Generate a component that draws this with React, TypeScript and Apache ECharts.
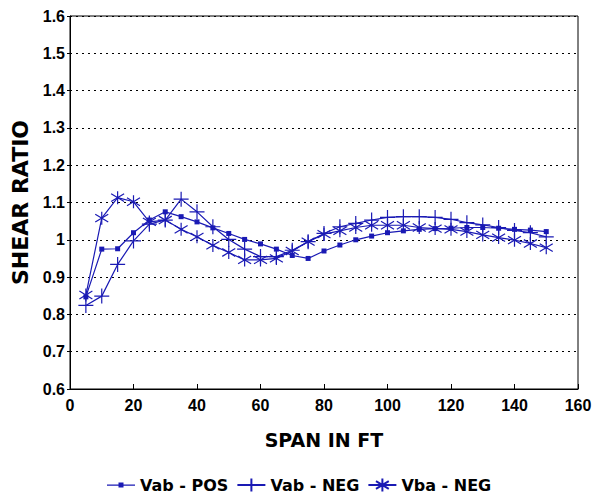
import React, { useEffect, useRef } from "react";
import * as echarts from "echarts";

const spans = [5, 10, 15, 20, 25, 30, 35, 40, 45, 50, 55, 60, 65, 70, 75, 80, 85, 90, 95, 100, 105, 110, 115, 120, 125, 130, 135, 140, 145, 150];
const vabPos = [0.847, 0.975, 0.976, 1.019, 1.053, 1.075, 1.062, 1.048, 1.032, 1.017, 1.001, 0.989, 0.975, 0.958, 0.95, 0.97, 0.986, 1.0, 1.01, 1.019, 1.024, 1.028, 1.03, 1.031, 1.033, 1.033, 1.031, 1.028, 1.026, 1.022];
const vabNeg = [0.824, 0.849, 0.934, 0.997, 1.042, 1.053, 1.109, 1.075, 1.035, 1.001, 0.975, 0.955, 0.955, 0.972, 0.995, 1.017, 1.035, 1.044, 1.053, 1.06, 1.062, 1.062, 1.06, 1.055, 1.046, 1.04, 1.033, 1.025, 1.019, 1.008];
const vbaNeg = [0.852, 1.058, 1.113, 1.102, 1.048, 1.053, 1.028, 1.008, 0.985, 0.966, 0.946, 0.946, 0.95, 0.97, 0.995, 1.015, 1.024, 1.033, 1.039, 1.039, 1.039, 1.033, 1.03, 1.028, 1.022, 1.013, 1.006, 0.999, 0.99, 0.979];
const seriesNames = ["Vab - POS", "Vab - NEG", "Vba - NEG"];
const xTitle = "SPAN IN FT";
const yTitle = "SHEAR RATIO";

const BLUE = "#1a1ab4";
const PLUS = "path://M10,0L10,20M0,10L20,10";
const STAR = "path://M10,0L10,20M0,4L20,16M0,16L20,4";
const POS_ICON = "path://M0,2L28,2L28,3.2L0,3.2Z M11.5,0L16.5,0L16.5,5L11.5,5Z";

export default function App() {
  const ref = useRef<HTMLDivElement>(null);
  useEffect(() => {
    document.body.style.margin = "0";
    const chart = echarts.init(ref.current!, null, { renderer: "svg" });
    const pair = (ys: number[]) => spans.map((x, i) => [x, ys[i]]);
    const labelFont = { fontFamily: "Liberation Sans", fontWeight: "bold" as const, fontSize: 16, color: "#000" };
    chart.setOption({
      animation: false,
      backgroundColor: "#fff",
      grid: { left: 70, right: 29, top: 16, bottom: 111, show: true, borderColor: "#000", borderWidth: 1 },
      xAxis: {
        type: "value",
        min: 0,
        max: 160,
        interval: 20,
        name: xTitle,
        nameLocation: "middle",
        nameGap: 41,
        nameTextStyle: { fontFamily: "DejaVu Sans", fontWeight: "bold", fontSize: 19, color: "#000" },
        axisLine: { show: true, lineStyle: { color: "#000", width: 1 } },
        axisTick: { show: true, inside: true, length: 5, lineStyle: { color: "#000" } },
        axisLabel: { ...labelFont, margin: 8 },
        splitLine: { show: false },
      },
      yAxis: {
        type: "value",
        min: 0.6,
        max: 1.6,
        interval: 0.1,
        name: yTitle,
        nameLocation: "middle",
        nameGap: 36,
        nameTextStyle: { fontFamily: "DejaVu Sans", fontWeight: "bold", fontSize: 22, color: "#000" },
        axisLine: { show: true, lineStyle: { color: "#000", width: 1 } },
        axisTick: { show: true, length: 3, lineStyle: { color: "#000" } },
        axisLabel: { ...labelFont, margin: 5, formatter: (v: number) => String(Math.round(v * 10) / 10) },
        splitLine: { show: true, lineStyle: { color: "#000", type: [2, 4], width: 1 } },
      },
      legend: {
        bottom: 2,
        left: 102,
        itemWidth: 28,
        itemHeight: 16,
        itemGap: 8,
        data: [{ name: seriesNames[0], icon: POS_ICON }, seriesNames[1], seriesNames[2]],
        textStyle: { fontFamily: "DejaVu Sans", fontWeight: "bold", fontSize: 16, color: "#000" },
      },
      series: [
        {
          name: seriesNames[0],
          type: "line",
          data: pair(vabPos),
          symbol: "rect",
          symbolSize: 5,
          lineStyle: { color: BLUE, width: 1.2 },
          itemStyle: { color: BLUE },
        },
        {
          name: seriesNames[1],
          type: "line",
          data: pair(vabNeg),
          symbol: PLUS,
          symbolSize: 15,
          lineStyle: { color: BLUE, width: 1.2 },
          itemStyle: { color: BLUE, borderColor: BLUE, borderWidth: 1.2 },
        },
        {
          name: seriesNames[2],
          type: "line",
          data: pair(vbaNeg),
          symbol: STAR,
          symbolSize: 13,
          lineStyle: { color: BLUE, width: 1.2 },
          itemStyle: { color: BLUE, borderColor: BLUE, borderWidth: 1.2 },
        },
      ],
    });
    return () => chart.dispose();
  }, []);
  return <div ref={ref} style={{ position: "absolute", left: 0, top: 0, width: 607, height: 500 }} />;
}
